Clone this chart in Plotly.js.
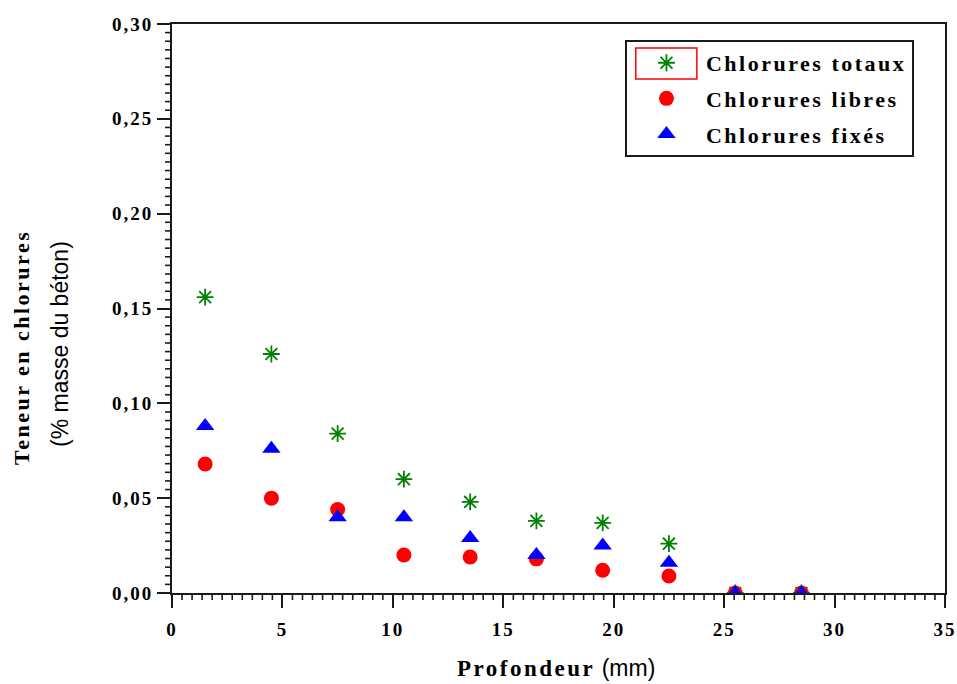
<!DOCTYPE html>
<html>
<head>
<meta charset="utf-8">
<script src="https://cdn.plot.ly/plotly-3.0.1.min.js"></script>
<style>
  html, body { margin: 0; padding: 0; background: #ffffff; }
  #chart { width: 957px; height: 684px; }
</style>
</head>
<body>
<div id="chart"></div>
<script>
// Depth of each sampled slice (mm)
const depth = [1.5, 4.5, 7.5, 10.5, 13.5, 16.5, 19.5, 22.5, 25.5, 28.5];
// Chloride content (% of concrete mass)
const totaux = [0.156, 0.126, 0.084, 0.060, 0.048, 0.038, 0.037, 0.026, 0, 0];
const libres = [0.068, 0.050, 0.044, 0.020, 0.019, 0.018, 0.012, 0.009, 0, 0];
const fixes  = [0.088, 0.076, 0.040, 0.040, 0.029, 0.020, 0.025, 0.016, 0, 0];

const seriesNames = ['Chlorures totaux', 'Chlorures libres', 'Chlorures fixés'];

// Axis tick positions and labels (French decimal comma)
const xTickVals = [0, 5, 10, 15, 20, 25, 30, 35];
const xTickText = ['0', '5', '10', '15', '20', '25', '30', '35'];
const yTickVals = [0, 0.05, 0.10, 0.15, 0.20, 0.25, 0.30];
const yTickText = ['0,00', '0,05', '0,10', '0,15', '0,20', '0,25', '0,30'];

const SERIF = 'Liberation Serif, Times New Roman, serif';
const SANS = 'Liberation Sans, Arial, sans-serif';
const INK = '#1a1a1a';

const spaced = (t, px) => '<span style="letter-spacing:' + px + 'px">' + t + '</span>';

// Ten minor ticks between consecutive major ticks
function minorTicks(majors, perGap) {
  const out = [];
  for (let i = 0; i < majors.length - 1; i++) {
    const step = (majors[i + 1] - majors[i]) / (perGap + 1);
    for (let k = 1; k <= perGap; k++) out.push(majors[i] + k * step);
  }
  return out;
}

// Minor tick marks: short outward strokes anchored on the axis edges
const MINOR_LEN = 7;
const minorShapes = [].concat(
  minorTicks(xTickVals, 10).map(v => ({
    type: 'line', xref: 'x', yref: 'paper', ysizemode: 'pixel', yanchor: 0,
    x0: v, x1: v, y0: 0, y1: -MINOR_LEN, line: { color: INK, width: 1.6 }, layer: 'above'
  })),
  minorTicks(yTickVals, 10).map(v => ({
    type: 'line', xref: 'paper', yref: 'y', xsizemode: 'pixel', xanchor: 0,
    x0: 0, x1: -MINOR_LEN, y0: v, y1: v, line: { color: INK, width: 1.6 }, layer: 'above'
  }))
);

const traces = [
  {
    x: depth, y: totaux, name: spaced(seriesNames[0], 2.5), legendgroup: 'a',
    type: 'scatter', mode: 'markers',
    marker: { symbol: 'asterisk-open', size: 14, color: '#008000', line: { color: '#008000', width: 1.8 } }
  },
  {
    x: depth, y: libres, name: spaced(seriesNames[1], 2.5), legendgroup: 'b',
    type: 'scatter', mode: 'markers',
    marker: { symbol: 'circle', size: 15, color: '#ff0000', line: { width: 0 } }
  },
  {
    x: depth, y: fixes, name: spaced(seriesNames[2], 2.5), legendgroup: 'c',
    type: 'scatter', mode: 'markers',
    marker: { symbol: 'triangle-up', size: 16, color: '#0000ff', line: { width: 0 } }
  }
];

const axisCommon = {
  showgrid: false, zeroline: false,
  showline: true, linecolor: INK, linewidth: 2, mirror: true,
  ticks: 'outside', ticklen: 13, tickwidth: 2, tickcolor: INK,
  tickfont: { family: SERIF, size: 19, color: '#000000', weight: 'bold' }
};

const layout = {
  width: 957, height: 684,
  margin: { l: 172, r: 12, t: 24, b: 91 },
  paper_bgcolor: '#ffffff', plot_bgcolor: '#ffffff',
  showlegend: true,
  xaxis: Object.assign({}, axisCommon, {
    range: [0, 35],
    tickmode: 'array', tickvals: xTickVals,
    ticktext: xTickText.map(t => spaced(t, 2)),
    ticklabelstandoff: 5
  }),
  yaxis: Object.assign({}, axisCommon, {
    range: [0, 0.30],
    tickmode: 'array', tickvals: yTickVals,
    ticktext: yTickText.map(t => spaced(t, 2))
  }),
  legend: {
    x: 0.586, y: 0.972, xanchor: 'left', yanchor: 'top',
    bgcolor: 'rgba(255,255,255,0)', bordercolor: INK, borderwidth: 2,
    font: { family: SERIF, size: 22, color: '#000000', weight: 'bold' },
    itemwidth: 69, tracegroupgap: 4
  },
  shapes: minorShapes.concat([
    { type: 'rect', xref: 'paper', yref: 'paper', x0: 0.600, x1: 0.679, y0: 0.9033, y1: 0.9578,
      line: { color: '#ff0000', width: 1.5 }, fillcolor: 'rgba(0,0,0,0)', layer: 'above' }
  ]),
  annotations: [
    {
      xref: 'paper', yref: 'paper', x: 0.497, y: -0.1318, xanchor: 'center', yanchor: 'middle',
      showarrow: false,
      text: '<span style="font-family:Liberation Serif;font-weight:bold;letter-spacing:2.5px">Profondeur</span> (mm)',
      font: { family: SANS, size: 23, color: '#000000' }
    },
    {
      xref: 'paper', yref: 'paper', x: -0.194, y: 0.4306, xanchor: 'center', yanchor: 'middle',
      showarrow: false, textangle: -90,
      text: spaced('Teneur en chlorures', 2.5),
      font: { family: SERIF, size: 22, color: '#000000', weight: 'bold' }
    },
    {
      xref: 'paper', yref: 'paper', x: -0.1449, y: 0.4376, xanchor: 'center', yanchor: 'middle',
      showarrow: false, textangle: -90,
      text: '(% masse du béton)',
      font: { family: SANS, size: 23, color: '#000000' }
    }
  ]
};

Plotly.newPlot('chart', traces, layout, { displayModeBar: false, staticPlot: true });
</script>
</body>
</html>
